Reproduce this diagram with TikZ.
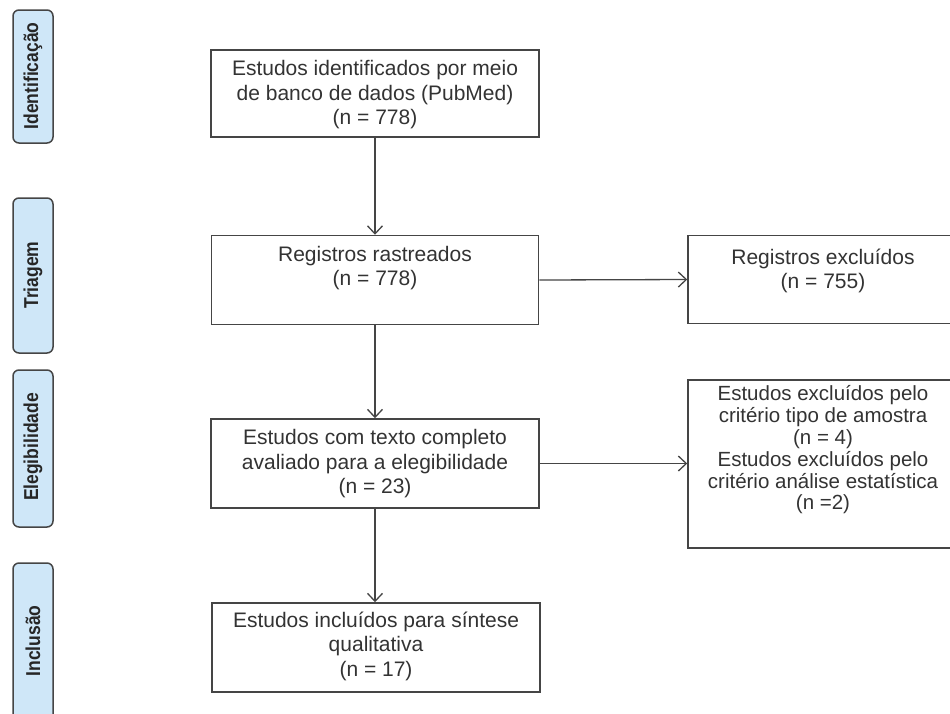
\documentclass[tikz,border=0pt]{standalone}
\usepackage{fontspec}
\setmainfont{Liberation Sans}
\usetikzlibrary{arrows.meta}
\definecolor{linegray}{HTML}{454545}
\definecolor{txtgray}{HTML}{333333}
\definecolor{sideblue}{HTML}{CFE7F8}
\tikzset{
  mainbox/.style={draw=linegray, line width=1.5pt, fill=white},
  sidebox/.style={draw=linegray, line width=1.5pt, fill=sideblue, rounded corners=6pt},
  sidetext/.style={rotate=90, font=\fontsize{17.5}{20}\selectfont\bfseries, text=black!85, yscale=1.15},
  boxtext/.style={align=center, text=txtgray, font=\fontsize{21}{24.5}\selectfont, inner sep=0pt},
  flow/.style={draw=linegray, line width=1.3pt, -{Straight Barb[length=8pt,width=15pt,line width=1.3pt]}}
}
\begin{document}
\begin{tikzpicture}[x=1pt,y=-1pt]
\useasboundingbox (0,0) rectangle (950,713);
\clip (0,0) rectangle (950,713);
\fill[white] (0,0) rectangle (950,713);
% side labels
\draw[sidebox] (13,10) rectangle (53,143);
\node[sidetext] (sl1) at (33,76) {Identificação};
\draw[sidebox] (13,198) rectangle (53,353);
\node[sidetext] (sl2) at (33,275) {Triagem};
\draw[sidebox] (13,370) rectangle (53,527);
\node[sidetext] (sl3) at (33,447) {Elegibilidade};
\draw[sidebox] (13,563) rectangle (53,740);
\node[sidetext] (sl4) at (33,641) {Inclusão};
% main boxes
\node[mainbox, minimum width=328pt, minimum height=87pt, inner sep=0pt] (b1) at (375,93.5) {};
\node[boxtext] (t1) at (375,95) {Estudos identificados por meio\\de banco de dados (PubMed)\\(n = 778)};
\node[mainbox, minimum width=327pt, minimum height=89pt, inner sep=0pt] (b2) at (375,280) {};
\node[boxtext] (t2) at (375,268) {Registros rastreados\\(n = 778)};
\node[mainbox, minimum width=270pt, minimum height=88pt, inner sep=0pt] (b3) at (823,279.5) {};
\node[boxtext] (t3) at (823,271) {Registros excluídos\\(n = 755)};
\node[mainbox, minimum width=328pt, minimum height=89pt, inner sep=0pt] (b4) at (375,463.5) {};
\node[boxtext] (t4) at (375,464) {Estudos com texto completo\\avaliado para a elegibilidade\\(n = 23)};
\node[mainbox, minimum width=270pt, minimum height=168pt, inner sep=0pt] (b5) at (823,464) {};
\node[boxtext, font=\fontsize{20.5}{21.8}\selectfont] (t5) at (823,450) {Estudos excluídos pelo\\critério tipo de amostra\\(n = 4)\\Estudos excluídos pelo\\critério análise estatística\\(n =2)};
\node[mainbox, minimum width=328pt, minimum height=89pt, inner sep=0pt] (b6) at (376,647.5) {};
\node[boxtext] (t6) at (376,646) {Estudos incluídos para síntese\\qualitativa\\(n = 17)};
% connectors
\draw[flow] (b1.south) -- (b2.north);
\draw[flow] (b2.south) -- (b4.north);
\draw[flow] (b4.south) -- (b6.north -| b4.south);
\draw[flow] (b2.east) -- (b3.west);
\draw[flow] (b4.east) -- (b5.west |- b4.east);
\end{tikzpicture}
\end{document}
